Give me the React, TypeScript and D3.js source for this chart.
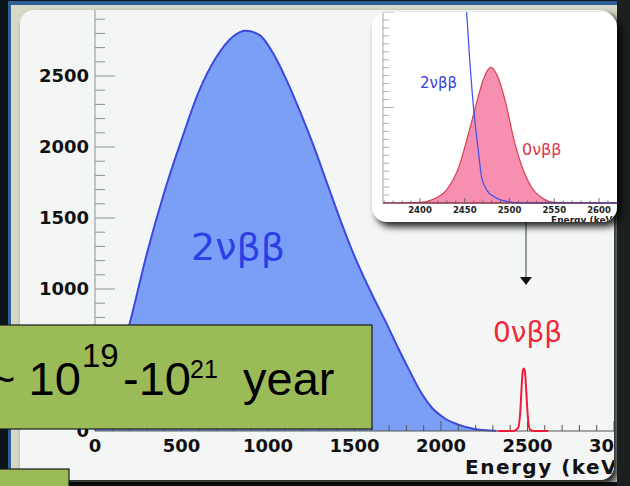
import React from 'react';
import * as d3 from 'd3';

// main spectrum: 2vbb continuum (counts vs energy in keV)
const twoNuEnergy = [0, 50, 100, 150, 200, 300, 400, 500, 600, 700, 800, 870, 950, 1030, 1100, 1180, 1260, 1340, 1420, 1480, 1540, 1610, 1680, 1750, 1820, 1890, 1950, 2020, 2100, 2180, 2260, 2320];
const twoNuCounts = [0, 150, 330, 540, 755, 1250, 1680, 2050, 2390, 2630, 2780, 2818, 2790, 2660, 2490, 2265, 2020, 1750, 1480, 1290, 1120, 940, 770, 590, 420, 260, 160, 90, 45, 18, 5, 0];

// main spectrum: 0vbb peak
const zeroNuEnergy = [2330, 2420, 2445, 2458, 2467, 2473, 2479, 2485, 2492, 2502, 2515, 2540, 2620];
const zeroNuCounts = [0, 0, 20, 130, 330, 425, 440, 420, 300, 100, 10, 0, 0];

// inset (zoom on the end point, relative units)
const insetRedEnergy = [2358, 2400, 2415, 2430, 2442, 2454, 2463, 2471, 2479, 2487, 2496, 2504, 2514, 2525, 2537, 2550, 2620];
const insetRedValue = [0, 0.004, 0.02, 0.07, 0.17, 0.36, 0.52, 0.65, 0.71, 0.66, 0.52, 0.35, 0.19, 0.08, 0.025, 0.004, 0];
const insetBlueEnergy = [2450, 2452, 2456, 2460, 2465, 2469, 2475, 2482, 2490, 2500, 2510, 2620];
const insetBlueValue = [1.1, 1.0, 0.72, 0.49, 0.28, 0.13, 0.065, 0.035, 0.016, 0.006, 0.001, 0];

const xTickValues = [0, 500, 1000, 1500, 2000, 2500, 3000];
const yTickValues = [0, 500, 1000, 1500, 2000, 2500];
const insetXTicks = [2400, 2450, 2500, 2550, 2600];

const W = 630;
const H = 486;

export default function App() {
  // main scales
  const x = d3.scaleLinear().domain([0, 3000]).range([95, 614]);
  const y = d3.scaleLinear().domain([0, 2500]).range([431, 76]);

  // inset scales
  const ix = d3.scaleLinear().domain([2400, 2600]).range([420, 599]);
  const iy = d3.scaleLinear().domain([0, 1]).range([203, 12]);

  const blueData = twoNuEnergy.map((e, i) => [e, twoNuCounts[i]] as [number, number]);
  const redData = zeroNuEnergy.map((e, i) => [e, zeroNuCounts[i]] as [number, number]);
  const iRed = insetRedEnergy.map((e, i) => [e, insetRedValue[i]] as [number, number]);
  const iBlue = insetBlueEnergy.map((e, i) => [e, insetBlueValue[i]] as [number, number]);

  const area = d3.area<[number, number]>()
    .x(d => x(d[0])).y0(y(0)).y1(d => y(d[1]))
    .curve(d3.curveMonotoneX);
  const line = d3.line<[number, number]>()
    .x(d => x(d[0])).y(d => y(d[1]))
    .curve(d3.curveMonotoneX);
  const iArea = d3.area<[number, number]>()
    .x(d => ix(d[0])).y0(iy(0)).y1(d => iy(d[1]))
    .curve(d3.curveMonotoneX);
  const iLine = d3.line<[number, number]>()
    .x(d => ix(d[0])).y(d => iy(d[1]))
    .curve(d3.curveMonotoneX);

  const yMinor = d3.range(100, 3000, 100);
  const xMinor = d3.range(100, 3100, 100);
  const iyMinor = d3.range(1, 25).map(k => k / 24);
  const ixMinor = d3.range(2360, 2620, 10);

  const tickFont = "'DejaVu Sans', sans-serif";

  return (
    <svg width={W} height={H} style={{ position: 'fixed', left: 0, top: 0 }}>
      <defs>
        <filter id="shadow" x="-10%" y="-10%" width="130%" height="130%">
          <feDropShadow dx="4" dy="5" stdDeviation="3.5" floodColor="#000" floodOpacity="0.85" />
        </filter>
        <clipPath id="panelClip">
          <rect x={20} y={10} width={594} height={470} rx={14} />
        </clipPath>
        <clipPath id="insetClip">
          <rect x={372} y={12} width={245} height={210} rx={15} />
        </clipPath>
        <clipPath id="insetPlot">
          <rect x={383} y={12} width={234} height={192} />
        </clipPath>
      </defs>

      {/* slide background */}
      <rect x={0} y={0} width={W} height={H} fill="#0b1519" />
      <rect x={8} y={1} width={W} height={6} fill="#2f5e98" />
      <rect x={8} y={1} width={3} height={H} fill="#2f5e98" />
      <rect x={11} y={5} width={606} height={477} fill="#d6d9c8" />

      {/* main panel */}
      <rect x={20} y={10} width={594} height={470} rx={14} fill="#f4f6f6" filter="url(#shadow)" />

      <g clipPath="url(#panelClip)">
        <path d={area(blueData) || ''} fill="#7b9ff6" />
        <path d={line(blueData) || ''} fill="none" stroke="#3a48e0" strokeWidth={2} />

        {/* y axis */}
        <line x1={95} x2={95} y1={431} y2={10} stroke="#8a9494" strokeWidth={1} />
        {yMinor.map(v => (
          <line key={'ym' + v} x1={95} x2={v % 500 === 0 ? 115 : 105} y1={y(v)} y2={y(v)}
            stroke="#8a9494" strokeWidth={1} />
        ))}
        {yTickValues.map(v => (
          <text key={'yl' + v} x={89} y={y(v)} dy="0.36em" textAnchor="end"
            fontFamily={tickFont} fontWeight="bold" fontSize={18} fill="#111">{v}</text>
        ))}

        {/* x axis */}
        <line x1={95} x2={614} y1={431} y2={431} stroke="#555" strokeWidth={1} />
        {xMinor.map(v => (
          <line key={'xm' + v} x1={x(v)} x2={x(v)} y1={431} y2={v % 500 === 0 ? 421 : 425}
            stroke="#555" strokeWidth={1} />
        ))}
        {xTickValues.map(v => (
          <text key={'xl' + v} x={x(v)} y={452} textAnchor="middle"
            fontFamily={tickFont} fontWeight="bold" fontSize={18} fill="#111">{v}</text>
        ))}
        <text x={465} y={474} fontFamily={tickFont} fontWeight="bold" fontSize={20}
          letterSpacing={1.5} fill="#111">Energy (keV)</text>

        {/* 0vbb peak */}
        <path d={line(redData) || ''} fill="none" stroke="#ee1c3a" strokeWidth={2} />

        <text x={191} y={260} fontFamily={tickFont} fontSize={38} fill="#2c3fe6">2νββ</text>
        <text x={493} y={342} fontFamily={tickFont} fontSize={28} fill="#ee2a3a">0νββ</text>

        {/* arrow from inset */}
        <line x1={526} x2={526} y1={222} y2={279} stroke="#6f7f7f" strokeWidth={1.5} />
        <path d="M520,277 L532,277 L526,285 Z" fill="#111" />
      </g>

      {/* right edge shadow */}
      <rect x={617} y={0} width={13} height={H} fill="#1c1f1f" />

      {/* inset */}
      <rect x={372} y={12} width={245} height={210} rx={15} fill="#fff" filter="url(#shadow)" />
      <g clipPath="url(#insetClip)">
        <g clipPath="url(#insetPlot)">
          <path d={iArea(iRed) || ''} fill="#f790b0" stroke="#d8404f" strokeWidth={1.2} />
          <path d={iLine(iBlue) || ''} fill="none" stroke="#4a55e8" strokeWidth={1.3} />
        </g>
        <line x1={383} x2={383} y1={203} y2={12} stroke="#9aa" strokeWidth={1} />
        {iyMinor.map(v => (
          <line key={'iy' + v} x1={383} x2={Math.abs(v * 2 - Math.round(v * 2)) < 1e-6 ? 394 : 389}
            y1={iy(v)} y2={iy(v)} stroke="#999" strokeWidth={0.8} />
        ))}
        <line x1={383} x2={617} y1={203} y2={203} stroke="#5a3040" strokeWidth={1} />
        {ixMinor.map(v => (
          <line key={'ix' + v} x1={ix(v)} x2={ix(v)} y1={203} y2={v % 50 === 0 ? 198 : 200.5}
            stroke="#555" strokeWidth={0.8} />
        ))}
        {insetXTicks.map(v => (
          <text key={'ixl' + v} x={ix(v)} y={213} textAnchor="middle"
            fontFamily={tickFont} fontWeight="bold" fontSize={8.5} fill="#222">{v}</text>
        ))}
        <text x={551} y={223} fontFamily={tickFont} fontWeight="bold" fontSize={9} fill="#222">Energy (keV)</text>
        <text x={420} y={88} fontFamily={tickFont} fontSize={15} fill="#3a40dd">2νββ</text>
        <text x={522} y={155} fontFamily={tickFont} fontSize={16} fill="#e0344a">0νββ</text>
      </g>

      {/* green boxes */}
      <rect x={-5} y={325} width={377} height={104} fill="#9bbb59" stroke="#1a1a1a" strokeWidth={1.2} />
      <text fontFamily="'Liberation Sans', Arial, sans-serif" fill="#000">
        <tspan x={-12} y={395} fontSize={47}>~ 10</tspan>
        <tspan x={82} y={367} fontSize={33}>19</tspan>
        <tspan x={123} y={395} fontSize={47}>-10</tspan>
        <tspan x={190} y={378} fontSize={25}>21</tspan>
        <tspan x={243} y={395} fontSize={47}>year</tspan>
      </text>
      <rect x={-5} y={469} width={74} height={25} fill="#9bbb59" stroke="#1a1a1a" strokeWidth={1.2} />
    </svg>
  );
}
